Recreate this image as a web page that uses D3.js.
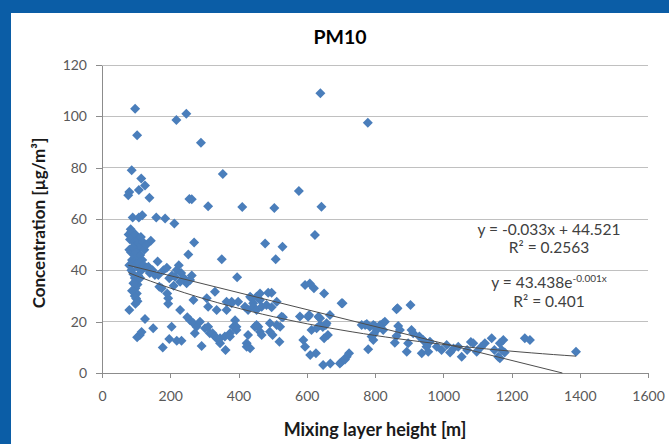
<!DOCTYPE html>
<html><head><meta charset="utf-8">
<script src="https://cdn.jsdelivr.net/npm/d3@7/dist/d3.min.js"></script>
<style>body{margin:0;padding:0;overflow:hidden;background:#fff}svg{display:block}</style>
</head><body>
<script>
const title = "PM10";
const xTitle = "Mixing layer height [m]";
const yTitle = "Concentration [µg/m³]";
const xTicks = [0,200,400,600,800,1000,1200,1400,1600];
const yTicks = [0,20,40,60,80,100,120];
// mixing layer height [m]
const mlh = [
97,103,218,247,290,640,779,87,115,126,108,77,80,139,256,311,411,505,577,643,354,
90,108,118,159,185,212,84,624,478,529,351,509,270,253,143,163,
78,82,86,90,94,98,102,106,110,114,120,124,130,80,85,90,96,100,104,112,118,88,94,100,106,110,122,130,80,86,92,96,100,104,98,102,96,100,104,98,106,112,116,92,88,
80,126,111,103,116,150,136,140,148,155,165,168,175,
178,197,219,233,204,180,190,197,205,214,219,225,232,240,248,258,263,229,210,194,194,191,268,263,
229,250,258,268,277,287,302,311,316,324,331,336,346,346,360,362,375,375,385,390,394,394,365,380,292,272,307,331,311,336,365,380,399,396,
419,428,434,438,443,443,453,453,463,463,468,482,487,497,497,512,448,453,458,463,468,428,424,424,434,492,492,512,520,522,526,530,500,
595,621,609,651,702,705,580,607,604,634,639,639,656,658,614,629,647,662,668,590,595,651,627,610,648,669,697,702,712,717,724,
761,771,776,785,795,800,805,815,824,829,824,790,797,795,780,863,866,904,868,873,858,863,893,897,907,912,930,941,946,937,951,956,961,981,995,1010,
1020,1030,1044,1054,1070,1081,1088,1098,1110,1122,1142,1150,1161,1166,1166,1171,1176,1180,1239,1254,1389
];
// PM10 concentration [µg/m3]
const pm10 = [
103,92.6,98.6,101,89.7,109,97.5,79,75.8,73.1,71.3,69.3,70.5,68.3,67.8,65,64.7,64.3,70.9,64.8,77.5,
60.6,60.6,61.5,60.6,60.2,58.2,56,53.8,50.5,49.2,44.3,44.3,50.8,46.2,51.5,43.4,
54,52,55,53,51,54,50,52,49,53,51,48,50,48,47,49,46,47,45,46,44,44,43,42.5,41,43,42,41,42,40,38.5,37,36,34.5,33,31,30,29,28,27,38,37,40,35,32,
24.5,21,14.8,13.9,16,17.4,41.4,39,40,38.2,38.2,33.6,33,
9.9,13.2,12.6,12.6,18,40,41,36.9,38,37.5,40.1,42,39,37,35,36.2,38,35.6,34,29.1,27,31,28.4,67.7,
24.5,21.7,20.6,19.4,18,20,17.4,18,15.5,15.5,14.2,13.5,11.6,13.5,14.2,9,14.2,15.5,18,20.6,18,16.8,24.5,27.8,10.5,15.5,29.1,31.7,25.8,24.5,27.8,27.2,27.8,37.3,
25.8,24.5,29.7,29.1,27.2,25.8,29.7,24.5,28.4,31,25.8,26.5,31.3,25.6,31.3,27.8,18,18.7,18,16.1,14.8,14.8,11.6,10.2,9.6,16.1,19.4,18.7,12.2,18,21.9,21.7,14.8,
34.3,33,34.9,31,27.2,27.2,22,22.6,21.9,21.9,21.3,18.7,18.7,19.4,16.8,17.4,17.9,14.8,22.6,12.9,10.2,13.5,7.7,7,3.1,3.7,3.7,4.4,5.3,6.3,7.7,
18.7,18.7,19.1,18,18.7,18.3,16.8,18.7,19.4,20,16.8,14.2,15.2,12.9,9.3,24.8,25.2,26.5,18.3,16.8,11.8,14.4,8.3,11.6,16.8,15.5,14.2,12.9,12.2,7.7,10.2,8.3,12.2,10.2,9,10.9,
8,9.5,10.2,6.3,9,12.1,11.6,8.3,10,11.6,13.5,9,6.3,11.6,5.7,9,12.9,8,13.5,12.9,8.3
];
const linFit = {slope:-0.033, intercept:44.521};
const expFit = {a:43.438, b:-0.00136};
const eq1 = ["y = -0.033x + 44.521", "R² = 0.2563"];

const W = 669, H = 444;
const svg = d3.select("body").append("svg").attr("width", W).attr("height", H);
svg.append("rect").attr("width", W).attr("height", H).attr("fill", "#0b5da6");
svg.append("rect").attr("x", 11).attr("y", 13).attr("width", W-11).attr("height", H-13).attr("fill", "#fff");

const x = d3.scaleLinear().domain([0,1600]).range([102,648]);
const y = d3.scaleLinear().domain([0,120]).range([373,65]);
const font = "Lato, 'Open Sans', sans-serif";

// gridlines
svg.append("g").selectAll("line").data(yTicks.filter(d=>d>0)).join("line")
  .attr("x1", x(0)).attr("x2", x(1600)).attr("y1", d=>y(d)).attr("y2", d=>y(d))
  .attr("stroke", "#c0c0c0").attr("stroke-width", 1).attr("shape-rendering","crispEdges");

// axes
const gx = svg.append("g").attr("transform", `translate(0,${y(0)})`)
  .call(d3.axisBottom(x).tickValues(xTicks).tickFormat(d3.format("d")).tickSize(5).tickPadding(13).tickSizeOuter(0));
const gy = svg.append("g").attr("transform", `translate(${x(0)},0)`)
  .call(d3.axisLeft(y).tickValues(yTicks).tickFormat(d3.format("d")).tickSize(6).tickPadding(9).tickSizeOuter(0));
[gx, gy].forEach(g => {
  g.select(".domain").attr("stroke", "#8c8c8c").attr("shape-rendering","crispEdges");
  g.selectAll(".tick line").attr("stroke", "#8c8c8c").attr("shape-rendering","crispEdges");
  g.selectAll(".tick text").attr("fill", "#595959").style("font-family", font).style("font-size", "14px");
});

// points
const pts = mlh.map((v,i)=>[v, pm10[i]]);
const r = 5;
svg.append("g").selectAll("path").data(pts).join("path")
  .attr("d", `M0,${-r}L${r},0L0,${r}L${-r},0Z`)
  .attr("transform", d=>`translate(${x(d[0])},${y(d[1])})`)
  .attr("fill", "#4a7ebb");

// trend lines
const xMin = d3.min(mlh), xMax = d3.max(mlh);
const linEnd = Math.min(xMax, -linFit.intercept/linFit.slope);
const linPts = [xMin, linEnd].map(v=>[v, linFit.slope*v + linFit.intercept]);
const expPts = d3.range(0, 41).map(i => { const v = xMin + (xMax-xMin)*i/40; return [v, expFit.a*Math.exp(expFit.b*v)]; });
const line = d3.line().x(d=>x(d[0])).y(d=>y(d[1]));
svg.append("path").attr("d", line(linPts)).attr("fill","none").attr("stroke","#4d4d4d").attr("stroke-width",1);
svg.append("path").attr("d", line(expPts)).attr("fill","none").attr("stroke","#4d4d4d").attr("stroke-width",1);

// equations
const eqG = svg.append("g").style("font-family", font).style("font-size", "15.5px").attr("fill", "#404040").attr("text-anchor","middle");
eqG.append("text").attr("x", 549).attr("y", 235).text(eq1[0]);
eqG.append("text").attr("x", 549).attr("y", 253).text(eq1[1]);
const t3 = eqG.append("text").attr("x", 549).attr("y", 288);
t3.append("tspan").text("y = 43.438e");
t3.append("tspan").attr("dy", -6).style("font-size","10px").text("-0.001x");
eqG.append("text").attr("x", 549).attr("y", 307).text("R² = 0.401");

// titles
svg.append("text").attr("x", 340).attr("y", 44).attr("text-anchor","middle")
  .style("font-family", font).style("font-size","19.5px").style("font-weight","bold").attr("fill","#000").text(title);
svg.append("text").attr("x", 375).attr("y", 436).attr("text-anchor","middle")
  .style("font-family", font).style("font-size","18px").style("font-weight","bold").attr("fill","#1a1a1a").text(xTitle);
svg.append("text").attr("transform","translate(45,223) rotate(-90)").attr("text-anchor","middle")
  .style("font-family", font).style("font-size","17px").style("font-weight","bold").attr("fill","#1a1a1a").text(yTitle);
</script>
</body></html>
